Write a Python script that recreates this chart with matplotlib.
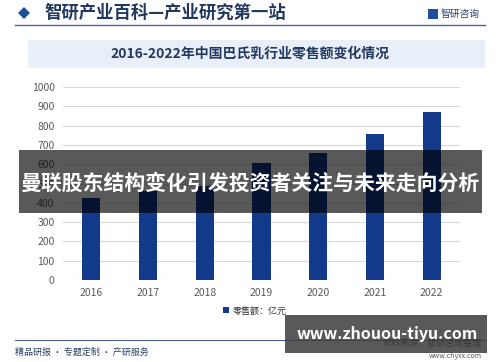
import matplotlib.pyplot as plt
from matplotlib.patches import Rectangle, Polygon

plt.rcParams['font.family'] = ['Noto Sans CJK SC', 'DejaVu Sans']

years = ['2016', '2017', '2018', '2019', '2020', '2021', '2022']
sales = [424, 462, 488, 607, 660, 759, 873]
yticks = [0, 100, 200, 300, 400, 500, 600, 700, 800, 900, 1000]

W, H = 500, 362
fig = plt.figure(figsize=(W / 100, H / 100), dpi=100)

def fx(x):
    return x / W

def fy(y):
    return 1 - y / H

# header
fig.patches.append(Polygon([(fx(18), fy(13)), (fx(24), fy(7)), (fx(30), fy(13)), (fx(24), fy(19))],
                           closed=True, transform=fig.transFigure, facecolor='#1f4e9a', edgecolor='none'))
fig.text(fx(44), fy(13), '智研产业百科—产业研究第一站', fontsize=12.5, fontweight='bold',
         color='#23385f', va='center', ha='left')
fig.lines.append(plt.Line2D([fx(15), fx(485)], [fy(25), fy(25)], transform=fig.transFigure,
                            color='#4a6595', lw=1))
fig.patches.append(Rectangle((fx(428), fy(19)), 10 / W, 10 / H, transform=fig.transFigure,
                             facecolor='#1f4e9a', edgecolor='none'))
fig.text(fx(441), fy(14), '智研咨询', fontsize=7, color='#2a3f66', va='center', ha='left')

# title box
fig.patches.append(Rectangle((fx(28), fy(68)), 457 / W, 28 / H, transform=fig.transFigure,
                             facecolor='#e9eff9', edgecolor='none'))
fig.text(fx(250), fy(54), '2016-2022年中国巴氏乳行业零售额变化情况', fontsize=10, fontweight='bold',
         color='#23385f', va='center', ha='center')

# chart
ax = fig.add_axes([fx(63), fy(280), (460 - 63) / W, (280 - 87) / H])
x = list(range(len(years)))
ax.bar(x, sales, width=0.32, color='#12398a', zorder=3, label='零售额：亿元')
ax.set_xlim(-0.5, 6.5)
ax.set_ylim(0, 1000)
ax.set_yticks(yticks)
ax.set_xticks(x)
ax.set_xticklabels(years)
ax.grid(axis='y', color='#d9d9d9', lw=0.8, zorder=0)
for s in ax.spines.values():
    s.set_visible(False)
ax.tick_params(length=0, labelsize=7.5, colors='#595959')
ax.tick_params(axis='y', pad=6)
ax.tick_params(axis='x', pad=6)
ax.legend(loc='center', bbox_to_anchor=(fx(255), fy(311)), bbox_transform=fig.transFigure,
          frameon=False, fontsize=6.5, handlelength=0.6, handleheight=0.6, handletextpad=0.4,
          labelcolor='#333333')

# footer
fig.lines.append(plt.Line2D([fx(15), fx(485)], [fy(340), fy(340)], transform=fig.transFigure,
                            color='#4a6595', lw=0.8))
fig.text(fx(15), fy(352), '精品研报 · 专题定制 · 产研服务', fontsize=6.5, color='#2a3f66',
         va='center', ha='left')
fig.text(fx(482), fy(343), '资料来源：智研咨询整理', fontsize=6.5, color='#333333', va='center', ha='right')
fig.text(fx(482), fy(356), 'www.chyxx.com', fontsize=5, color='#555555', va='center', ha='right')

# overlay band
fig.patches.append(Rectangle((fx(19), fy(213)), 463 / W, 63 / H, transform=fig.transFigure,
                             facecolor='black', alpha=0.65, edgecolor='none', zorder=10))
fig.text(fx(250), fy(183), '曼联股东结构变化引发投资者关注与未来走向分析', fontsize=15,
         fontweight='bold', color='white', va='center', ha='center', zorder=11)

# watermark box
fig.patches.append(Rectangle((fx(285), fy(353)), 202 / W, 38 / H, transform=fig.transFigure,
                             facecolor='#3c3c3c', alpha=0.85, edgecolor='none', zorder=10))
fig.text(fx(387), fy(334), 'www.zhouou-tiyu.com', fontsize=11.5, fontweight='bold',
         color='white', va='center', ha='center', zorder=11)

fig.savefig('out.png', dpi=100)
